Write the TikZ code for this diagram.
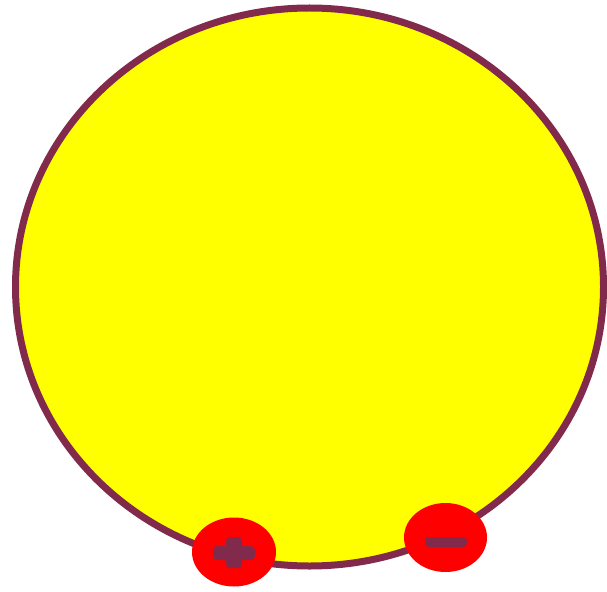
\documentclass[tikz,border=0pt]{standalone}
\begin{document}
\begin{tikzpicture}[x=1pt,y=-1pt,
  body/.style={fill=yellow,draw=wine,line width=7pt},
  terminal/.style={fill=red,draw=none},
  sign/.style={fill=wine,draw=none,rounded corners=4pt}]
\definecolor{wine}{RGB}{130,42,76}
\definecolor{yellow}{RGB}{255,255,0}
\definecolor{red}{RGB}{255,0,0}
\useasboundingbox (0,0) rectangle (607,591);
\fill[white] (0,0) rectangle (607,591);
% battery body
\draw[body] (309.5,287) ellipse [x radius=294, y radius=279];
% plus terminal
\fill[terminal] (234,552) ellipse [x radius=42, y radius=34.5];
\fill[sign] (213,546) rectangle (255,560);
\fill[sign] (226,537) rectangle (242,568);
% minus terminal
\fill[terminal] (445.5,537.5) ellipse [x radius=41.5, y radius=34.5];
\fill[sign] (425,537) rectangle (467,547);
\end{tikzpicture}
\end{document}
